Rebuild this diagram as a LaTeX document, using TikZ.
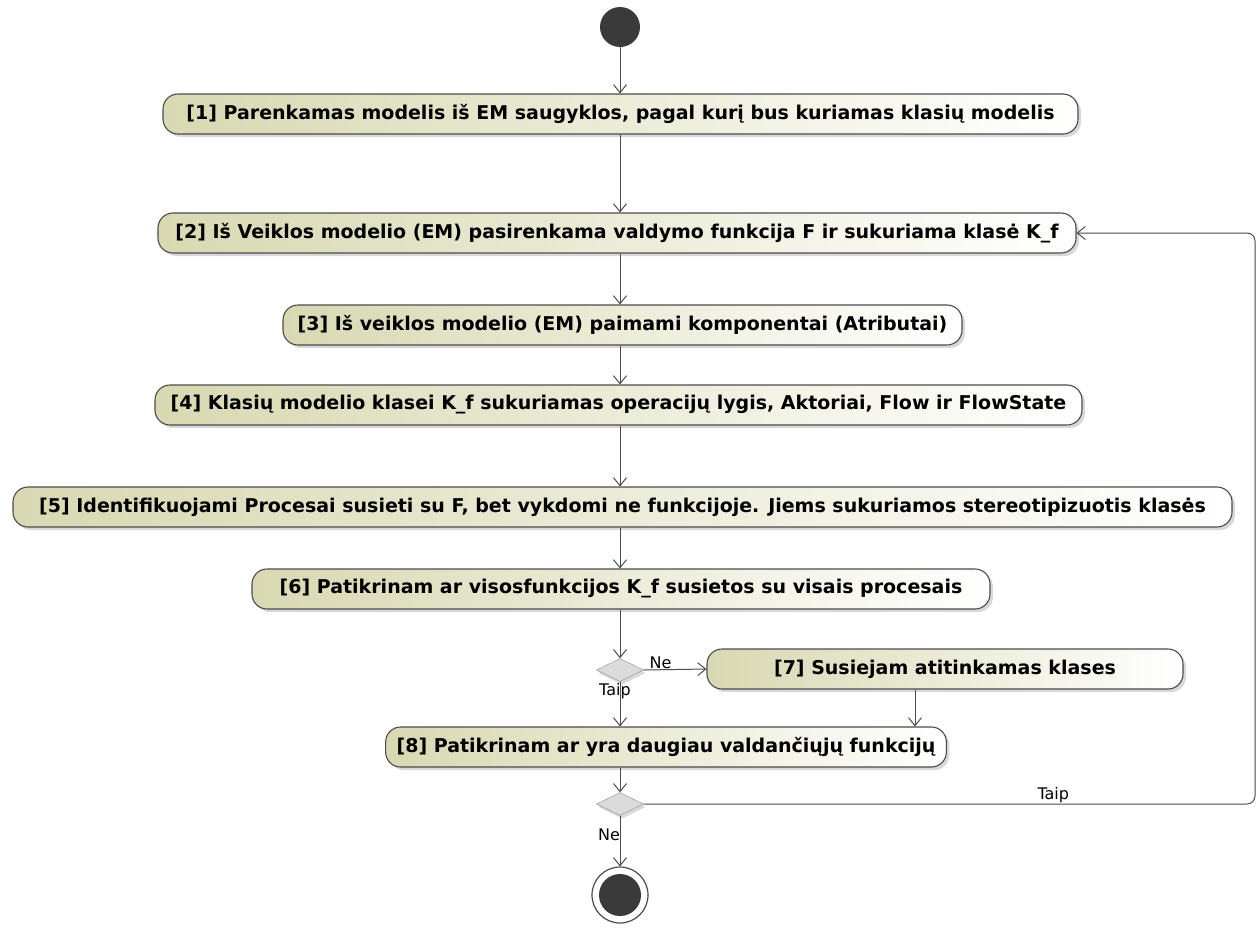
\documentclass[tikz,border=0pt]{standalone}
\usepackage{fontspec}
\setmainfont{DejaVu Sans}
\usetikzlibrary{arrows.meta,shapes.geometric,shadows}
\definecolor{actfill}{RGB}{216,216,178}
\definecolor{flowgray}{RGB}{75,75,75}
\definecolor{dotgray}{RGB}{58,58,58}
\begin{document}
\begin{tikzpicture}[x=1pt,y=-1pt,
    act/.style={draw=flowgray,line width=1.1pt,rounded corners=15pt,left color=actfill,middle color=actfill!75!white,right color=white,
      minimum height=40pt,inner xsep=11pt,inner ysep=0pt,font=\bfseries\fontsize{19}{22}\selectfont,
      drop shadow={shadow xshift=3pt,shadow yshift=-3pt,fill=black!30}},
    choice/.style={diamond,draw=black!45,fill=black!14,minimum width=47pt,minimum height=23pt,inner sep=0pt,
      drop shadow={shadow xshift=2pt,shadow yshift=-3pt,fill=black!30}},
    flow/.style={draw=flowgray,line width=1pt,-{Straight Barb[length=8pt,width=13pt]}},
    lbl/.style={font=\fontsize{16}{18}\selectfont,inner sep=1pt}]
  \useasboundingbox (0,0) rectangle (1260,929);
  % activities
  \node[circle,fill=dotgray,minimum size=40pt,inner sep=0pt] (start) at (620,27) {};
  \node[act,minimum width=915pt] (n1) at (620.5,114) {[1] Parenkamas modelis iš EM saugyklos, pagal kurį bus kuriamas klasių modelis};
  \node[act,minimum width=918pt] (n2) at (617,233) {[2] Iš Veiklos modelio (EM) pasirenkama valdymo funkcija F ir sukuriama klasė K\_f};
  \node[act,minimum width=679pt] (n3) at (622.5,325) {[3] Iš veiklos modelio (EM) paimami komponentai (Atributai)};
  \node[act,minimum width=927pt] (n4) at (618.5,405) {[4] Klasių modelio klasei K\_f sukuriamas operacijų lygis, Aktoriai, Flow ir FlowState};
  \node[act,minimum width=1219pt] (n5) at (622.5,507) {[5] Identifikuojami Procesai susieti su F, bet vykdomi ne funkcijoje. Jiems sukuriamos stereotipizuotis klasės};
  \node[act,minimum width=738pt] (n6) at (621,589) {[6] Patikrinam ar visosfunkcijos K\_f susietos su visais procesais};
  \node[choice] (d1) at (620,670) {};
  \node[act,minimum width=476pt] (n7) at (945,669) {[7] Susiejam atitinkamas klases};
  \node[act,minimum width=548pt] (n8) at (666,747) {[8] Patikrinam ar yra daugiau valdančiųjų funkcijų};
  \node[choice] (d2) at (620,804) {};
  \node[circle,draw=flowgray,line width=1.2pt,fill=white,minimum size=56pt,inner sep=0pt] (end) at (620,895) {};
  \fill[dotgray] (end) circle (21pt);
  \coordinate (loop) at (1255,0);
  % flows
  \draw[flow] (start) -- (start |- n1.north);
  \draw[flow] (n1.south -| start) -- (n2.north -| start);
  \draw[flow] (n2.south -| start) -- (n3.north -| start);
  \draw[flow] (n3.south -| start) -- (n4.north -| start);
  \draw[flow] (n4.south -| start) -- (n5.north -| start);
  \draw[flow] (n5.south -| start) -- (n6.north -| start);
  \draw[flow] (n6.south -| d1) -- (d1.north);
  \draw[flow] (d1.east) -- (n7.west) node[lbl,pos=0.27,above] {Ne};
  \draw[flow] (d1.south) node[lbl,below,xshift=-5pt] {Taip} -- (d1 |- n8.north);
  \draw[flow] ([xshift=-30pt]n7.south) -- ([xshift=-30pt]n7.south |- n8.north);
  \draw[flow] (n8.south -| d2) -- (d2.north);
  \draw[flow] (d2.south) -- (end.north) node[lbl,pos=0.38,xshift=-11pt] {Ne};
  \draw[flow,rounded corners=8pt] (d2.east) -- (d2.east -| loop) node[lbl,pos=0.67,above] {Taip}
    -- (loop |- n2.east) -- (n2.east);
\end{tikzpicture}
\end{document}
